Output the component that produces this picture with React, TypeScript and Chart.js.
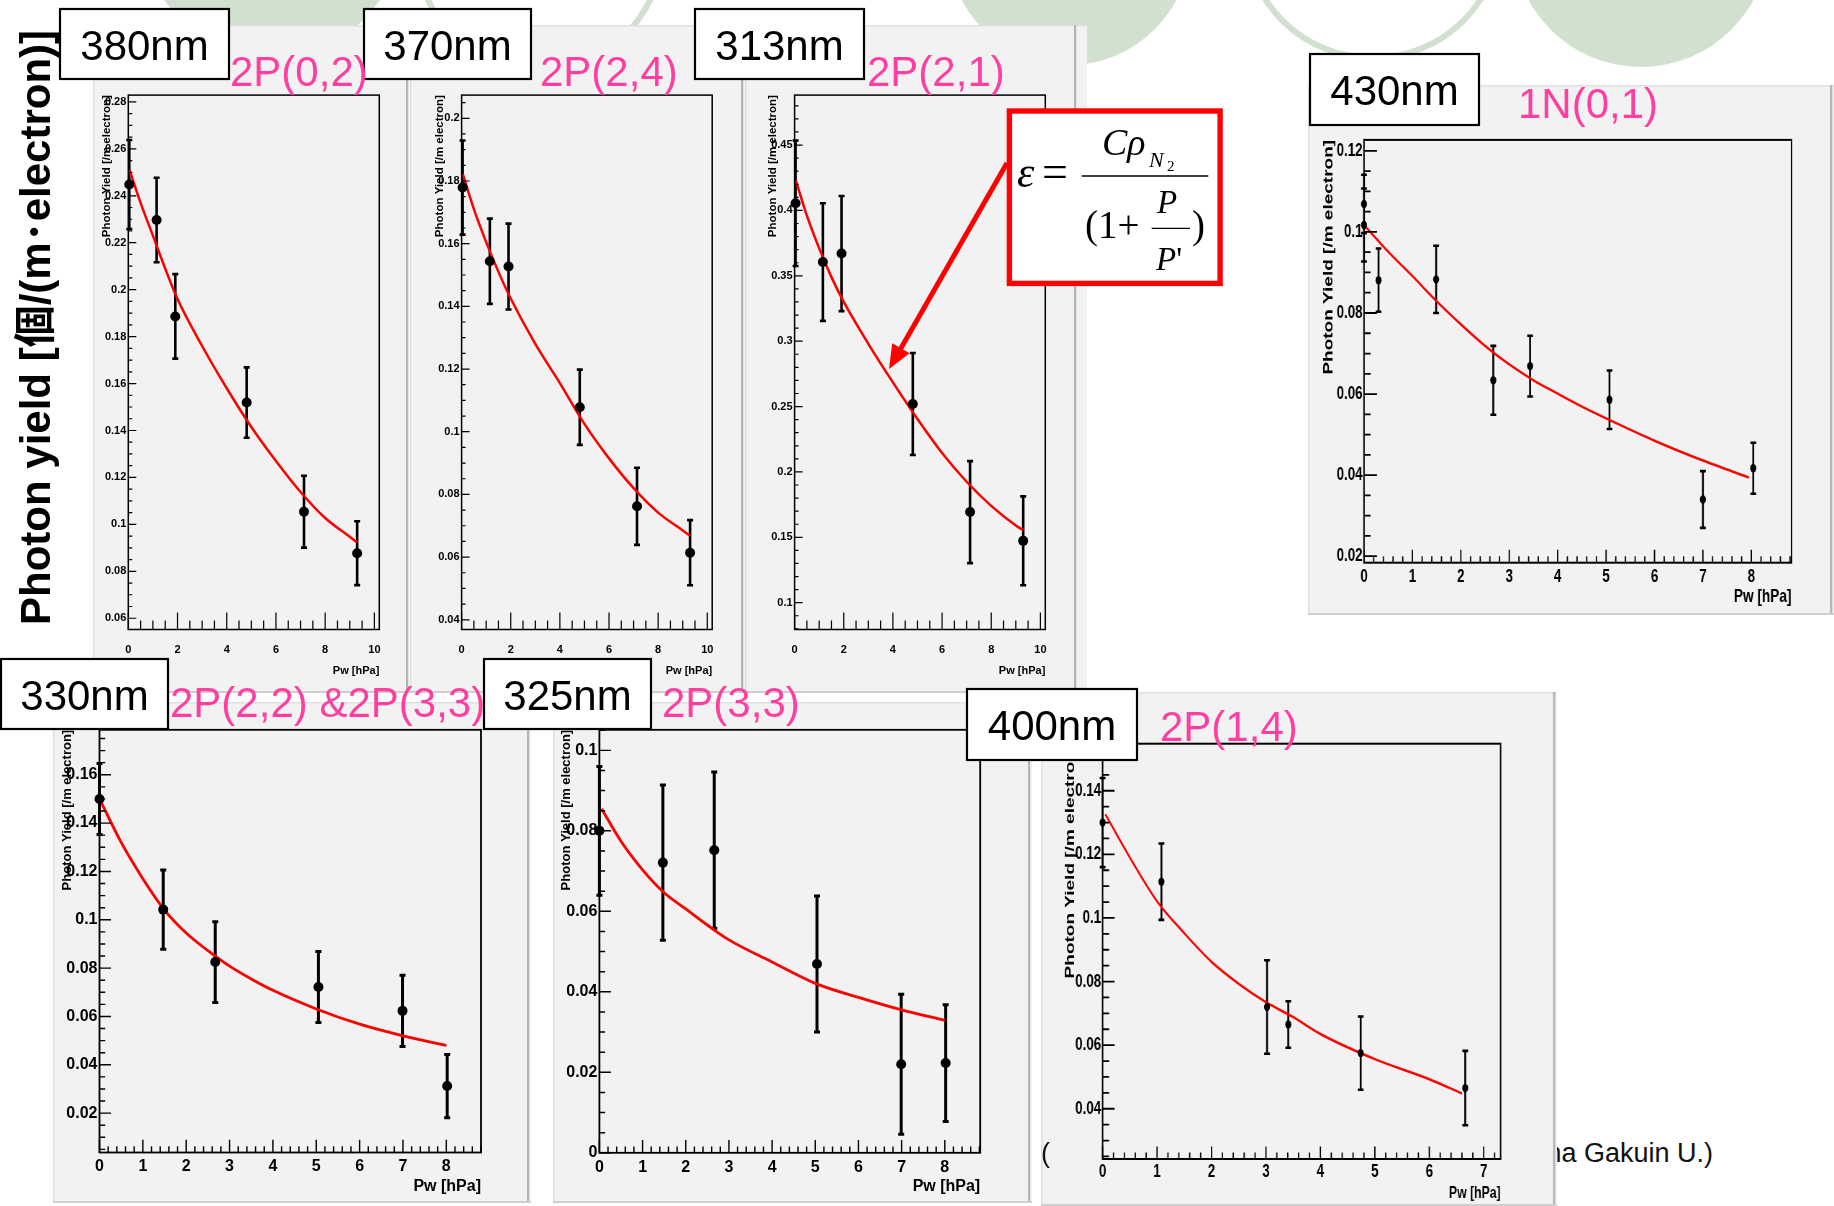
import React, { useEffect, useRef } from "react";
import { Chart, registerables } from "chart.js";
Chart.register(...registerables);

const SANS = '"Liberation Sans", Arial, Helvetica, "Noto Sans CJK JP", sans-serif';
const SERIF = '"Liberation Serif", "Times New Roman", serif';
const PINK = "#ff3fa0";
const GREEN = "#d2e0cf";

// ---------------- data ----------------
// top row (380 nm, 370 nm, 313 nm) share the same pressures
const pxTop = [0.04, 1.15, 1.91, 4.81, 7.14, 9.3];
const fxTop = [0.05, 0.5, 1, 1.5, 2, 3, 4, 5, 6, 7, 8, 9, 9.3];

const py380 = [0.2448, 0.2297, 0.1886, 0.1519, 0.1054, 0.0877];
const pe380 = [0.019, 0.018, 0.018, 0.015, 0.0153, 0.0136];
const fy380 = [0.251, 0.237, 0.223, 0.209, 0.196, 0.176, 0.158, 0.1415, 0.127, 0.1138, 0.1027, 0.0947, 0.0923];

const py370 = [0.1779, 0.1544, 0.1527, 0.1078, 0.0762, 0.0614];
const pe370 = [0.015, 0.0136, 0.0137, 0.012, 0.0123, 0.0104];
const fy370 = [0.1822, 0.171, 0.1605, 0.151, 0.1425, 0.128, 0.1155, 0.1025, 0.0915, 0.082, 0.0742, 0.0685, 0.0668];

const py313 = [0.4055, 0.3605, 0.367, 0.252, 0.1693, 0.1473];
const pe313 = [0.048, 0.045, 0.044, 0.039, 0.039, 0.034];
const fy313 = [0.423, 0.396, 0.371, 0.349, 0.33, 0.298, 0.2685, 0.2405, 0.2145, 0.1925, 0.174, 0.159, 0.1555];

const px430 = [0, 0, 0.3, 1.49, 2.67, 3.43, 5.07, 7.0, 8.04];
const py430 = [0.1069, 0.1017, 0.0881, 0.0883, 0.0634, 0.0669, 0.0586, 0.034, 0.0417];
const pe430 = [0.0072, 0.009, 0.0078, 0.0083, 0.0085, 0.0075, 0.0072, 0.007, 0.0063];
const fx430 = [0, 0.5, 1, 1.5, 2, 2.5, 3, 3.5, 4, 4.5, 5, 6, 7, 7.95];
const fy430 = [0.1017, 0.0951, 0.0891, 0.0829, 0.0772, 0.0719, 0.0673, 0.0634, 0.0601, 0.0569, 0.054, 0.0485, 0.0436, 0.0394];

const px330 = [0, 1.47, 2.67, 5.05, 6.99, 8.02];
const py330 = [0.15, 0.1042, 0.0825, 0.0722, 0.0623, 0.0312];
const pe330 = [0.0147, 0.0164, 0.0167, 0.0147, 0.0147, 0.0131];
const fx330 = [0, 0.5, 1, 1.5, 2, 2.5, 3, 3.5, 4, 5, 6, 7, 8];
const fy330 = [0.15, 0.132, 0.117, 0.104, 0.0945, 0.0872, 0.0808, 0.0755, 0.0708, 0.0631, 0.0568, 0.052, 0.048];

const px325 = [0, 1.47, 2.66, 5.04, 6.99, 8.02];
const py325 = [0.08, 0.0721, 0.0752, 0.0469, 0.022, 0.0223];
const pe325 = [0.016, 0.0193, 0.0194, 0.0169, 0.0174, 0.0145];
const fx325 = [0.05, 0.5, 1, 1.5, 2, 2.5, 3, 4, 5, 6, 7, 8];
const fy325 = [0.0855, 0.0774, 0.0703, 0.0646, 0.0606, 0.0566, 0.0529, 0.0474, 0.0421, 0.0386, 0.0355, 0.0329];

const px400 = [0, 1.08, 3.02, 3.41, 4.74, 6.66];
const py400 = [0.13, 0.1114, 0.072, 0.0665, 0.0575, 0.0465];
const pe400 = [0.014, 0.012, 0.0147, 0.0073, 0.0115, 0.0117];
const fx400 = [0.05, 0.5, 1, 1.5, 2, 2.5, 3, 3.5, 4, 5, 6, 6.6];
const fy400 = [0.1326, 0.119, 0.1052, 0.0952, 0.0862, 0.0793, 0.0735, 0.0688, 0.0635, 0.0556, 0.0493, 0.0448];

// tick values and labels
const xTicks10 = [0, 2, 4, 6, 8, 10];
const xLabels10 = ["0", "2", "4", "6", "8", "10"];
const xTicks8 = [0, 1, 2, 3, 4, 5, 6, 7, 8];
const xLabels8 = ["0", "1", "2", "3", "4", "5", "6", "7", "8"];
const xTicks7 = [0, 1, 2, 3, 4, 5, 6, 7];
const xLabels7 = ["0", "1", "2", "3", "4", "5", "6", "7"];
const yTicks380 = [0.06, 0.08, 0.1, 0.12, 0.14, 0.16, 0.18, 0.2, 0.22, 0.24, 0.26, 0.28];
const yLabels380 = ["0.06", "0.08", "0.1", "0.12", "0.14", "0.16", "0.18", "0.2", "0.22", "0.24", "0.26", "0.28"];
const yTicks370 = [0.04, 0.06, 0.08, 0.1, 0.12, 0.14, 0.16, 0.18, 0.2];
const yLabels370 = ["0.04", "0.06", "0.08", "0.1", "0.12", "0.14", "0.16", "0.18", "0.2"];
const yTicks313 = [0.1, 0.15, 0.2, 0.25, 0.3, 0.35, 0.4, 0.45];
const yLabels313 = ["0.1", "0.15", "0.2", "0.25", "0.3", "0.35", "0.4", "0.45"];
const yTicks430 = [0.02, 0.04, 0.06, 0.08, 0.1, 0.12];
const yLabels430 = ["0.02", "0.04", "0.06", "0.08", "0.1", "0.12"];
const yTicks330 = [0.02, 0.04, 0.06, 0.08, 0.1, 0.12, 0.14, 0.16];
const yLabels330 = ["0.02", "0.04", "0.06", "0.08", "0.1", "0.12", "0.14", "0.16"];
const yTicks325 = [0, 0.02, 0.04, 0.06, 0.08, 0.1];
const yLabels325 = ["0", "0.02", "0.04", "0.06", "0.08", "0.1"];
const yTicks400 = [0.04, 0.06, 0.08, 0.1, 0.12, 0.14];
const yLabels400 = ["0.04", "0.06", "0.08", "0.1", "0.12", "0.14"];

const Y_TITLE = "Photon Yield [/m electron]";
const X_TITLE = "Pw [hPa]";

// ---------------- panel layout / style ----------------
type Cfg = {
  key: string;
  box: number[];
  frame: number[];
  sx: number;
  dark: number;
  xMin: number; xMax: number; yMin: number; yMax: number;
  px: number[]; py: number[]; pe: number[]; fx: number[]; fy: number[];
  xTicks: number[]; xLabels: string[]; yTicks: number[]; yLabels: string[];
  xMinor: number; yMinor: number;
  tickFont: number; titleFont: number; xTitleFont: number;
  yLabGap: number; xLabOff: number; xTitleOff: number; yTitleOff: number;
  yMajLen: number; yMinLen: number; xMajLen: number; xMinLen: number;
  r: number; errW: number; cap: number; fitW: number; frameW: number; tickW: number;
};

const topStyle = {
  sx: 1, dark: 2, xMin: 0, xMax: 10.2, xTicks: xTicks10, xLabels: xLabels10, xMinor: 0.5,
  tickFont: 11, titleFont: 11.5, xTitleFont: 11,
  yLabGap: 2, xLabOff: 23, xTitleOff: 44.5, yTitleOff: 21.6,
  yMajLen: 8, yMinLen: 4, xMajLen: 17, xMinLen: 9,
  r: 5, errW: 2.6, cap: 3, fitW: 2.5, frameW: 1.5, tickW: 1.2,
};

const botStyle = {
  sx: 1, dark: 2, xMin: 0, xTicks: xTicks8, xLabels: xLabels8, xMinor: 0.2, yMinor: 0.005,
  tickFont: 16, titleFont: 13, xTitleFont: 16,
  yLabGap: 2, xLabOff: 18.8, xTitleOff: 38, yTitleOff: 32.5,
  yMajLen: 11.5, yMinLen: 5.7, xMajLen: 12.7, xMinLen: 6.3,
  r: 5, errW: 3, cap: 3, fitW: 2.8, frameW: 1.8, tickW: 1.4,
};

const narrowStyle = {
  sx: 0.72, dark: 2, xMin: 0, xMinor: 0.2, yMinor: 0.005,
  titleFont: 19, yLabGap: 1.5,
  yMajLen: 13, yMinLen: 6.5, xMajLen: 13, xMinLen: 6.5,
  r: 4.2, errW: 2.6, cap: 4, fitW: 2.5, frameW: 2, tickW: 1.8,
};

const panels: Cfg[] = [
  {
    ...topStyle, key: "380", box: [93, 25, 410, 693], frame: [128.3, 95.1, 379.3, 629.5],
    yMin: 0.0552, yMax: 0.2829, px: pxTop, py: py380, pe: pe380, fx: fxTop, fy: fy380,
    yTicks: yTicks380, yLabels: yLabels380, yMinor: 0.005,
  },
  {
    ...topStyle, key: "370", box: [410, 25, 745, 693], frame: [461.6, 95.1, 712.2, 629.5],
    yMin: 0.0369, yMax: 0.2074, px: pxTop, py: py370, pe: pe370, fx: fxTop, fy: fy370,
    yTicks: yTicks370, yLabels: yLabels370, yMinor: 0.005,
  },
  {
    ...topStyle, key: "313", box: [745, 25, 1087, 693], frame: [794.6, 95.1, 1045.3, 629.5], dark: 11,
    yMin: 0.0795, yMax: 0.4882, px: pxTop, py: py313, pe: pe313, fx: fxTop, fy: fy313,
    yTicks: yTicks313, yLabels: yLabels313, yMinor: 0.01,
  },
  {
    ...narrowStyle, key: "430", box: [1308, 85, 1834, 615], frame: [1364, 139.9, 1791.5, 562.7],
    xMax: 8.83, yMin: 0.0184, yMax: 0.1227, px: px430, py: py430, pe: pe430, fx: fx430, fy: fy430,
    xTicks: xTicks8, xLabels: xLabels8, yTicks: yTicks430, yLabels: yLabels430,
    tickFont: 18.5, xTitleFont: 19, xLabOff: 19.3, xTitleOff: 39.5, yTitleOff: 35,
  },
  {
    ...botStyle, key: "330", box: [53, 702, 531, 1203], frame: [99.5, 729.8, 481, 1152.5],
    xMax: 8.8, yMin: 0.0037, yMax: 0.1786, px: px330, py: py330, pe: pe330, fx: fx330, fy: fy330,
    yTicks: yTicks330, yLabels: yLabels330,
  },
  {
    ...botStyle, key: "325", box: [553, 702, 1032, 1203], frame: [599.4, 729.8, 980.2, 1152.8],
    xMax: 8.82, yMin: 0, yMax: 0.1051, px: px325, py: py325, pe: pe325, fx: fx325, fy: fy325,
    yTicks: yTicks325, yLabels: yLabels325,
  },
  {
    ...narrowStyle, key: "400", box: [1041, 692, 1557, 1206], frame: [1102.6, 743.7, 1500.6, 1159],
    xMax: 7.31, yMin: 0.0242, yMax: 0.1548, px: px400, py: py400, pe: pe400, fx: fx400, fy: fy400,
    xTicks: xTicks7, xLabels: xLabels7, yTicks: yTicks400, yLabels: yLabels400,
    tickFont: 18.5, xTitleFont: 17, xLabOff: 17.5, xTitleOff: 39, yTitleOff: 32.6, yMajLen: 12, xMajLen: 12.5,
  },
];

function makePlugin(c: Cfg, sxe: number) {
  return {
    id: "rootStyle" + c.key,
    beforeDraw(chart: any) {
      const { ctx, width, height } = chart;
      ctx.save();
      ctx.fillStyle = "#f2f2f2";
      ctx.fillRect(0, 0, width, height);
      ctx.fillStyle = "#e0e0e0";
      ctx.fillRect(0, 0, width, 1.5);
      ctx.fillRect(0, 0, 1.5 / sxe, height);
      ctx.fillStyle = "#b4b4b4";
      ctx.fillRect(width - (c.dark + 2) / sxe, 0, 2.2 / sxe, height);
      ctx.fillStyle = "#cfcfcf";
      ctx.fillRect(0, height - 2, width, 2);
      ctx.restore();
    },
    beforeDatasetsDraw(chart: any) {
      const { ctx } = chart;
      const xs = chart.scales.x;
      const ys = chart.scales.y;
      ctx.save();
      ctx.strokeStyle = "#000";
      ctx.lineWidth = c.errW;
      ctx.beginPath();
      c.px.forEach((xv, i) => {
        const X = xs.getPixelForValue(xv);
        const T = ys.getPixelForValue(c.py[i] + c.pe[i]);
        const B = ys.getPixelForValue(c.py[i] - c.pe[i]);
        ctx.moveTo(X, T);
        ctx.lineTo(X, B);
        ctx.moveTo(X - c.cap, T);
        ctx.lineTo(X + c.cap, T);
        ctx.moveTo(X - c.cap, B);
        ctx.lineTo(X + c.cap, B);
      });
      ctx.stroke();
      ctx.restore();
    },
    afterDraw(chart: any) {
      const { ctx } = chart;
      const a = chart.chartArea;
      const xs = chart.scales.x;
      const ys = chart.scales.y;
      ctx.save();
      ctx.strokeStyle = "#000";
      ctx.lineWidth = c.frameW;
      ctx.strokeRect(a.left, a.top, a.right - a.left, a.bottom - a.top);
      ctx.lineWidth = c.tickW;
      ctx.beginPath();
      const ky0 = Math.ceil(c.yMin / c.yMinor - 1e-6);
      for (let k = ky0; k * c.yMinor <= c.yMax + 1e-9; k++) {
        const Y = ys.getPixelForValue(k * c.yMinor);
        ctx.moveTo(a.left, Y);
        ctx.lineTo(a.left + c.yMinLen / sxe, Y);
      }
      c.yTicks.forEach((v) => {
        const Y = ys.getPixelForValue(v);
        ctx.moveTo(a.left, Y);
        ctx.lineTo(a.left + c.yMajLen / sxe, Y);
      });
      const kx0 = Math.ceil(c.xMin / c.xMinor - 1e-6);
      for (let k = kx0; k * c.xMinor <= c.xMax + 1e-9; k++) {
        const X = xs.getPixelForValue(k * c.xMinor);
        ctx.moveTo(X, a.bottom);
        ctx.lineTo(X, a.bottom - c.xMinLen);
      }
      c.xTicks.forEach((v) => {
        const X = xs.getPixelForValue(v);
        ctx.moveTo(X, a.bottom);
        ctx.lineTo(X, a.bottom - c.xMajLen);
      });
      ctx.stroke();

      ctx.fillStyle = "#000";
      ctx.font = `bold ${c.tickFont}px ${SANS}`;
      ctx.textAlign = "right";
      ctx.textBaseline = "middle";
      c.yTicks.forEach((v, i) => {
        ctx.fillText(c.yLabels[i], a.left - c.yLabGap / sxe, ys.getPixelForValue(v));
      });
      ctx.textAlign = "center";
      ctx.textBaseline = "alphabetic";
      c.xTicks.forEach((v, i) => {
        ctx.fillText(c.xLabels[i], xs.getPixelForValue(v), a.bottom + c.xLabOff);
      });
      ctx.font = `bold ${c.xTitleFont}px ${SANS}`;
      ctx.textAlign = "right";
      ctx.fillText(X_TITLE, a.right, a.bottom + c.xTitleOff);

      ctx.save();
      ctx.translate(a.left - c.yTitleOff / sxe, a.top);
      ctx.rotate(-Math.PI / 2);
      ctx.font = `bold ${c.titleFont}px ${SANS}`;
      ctx.textAlign = "right";
      ctx.textBaseline = "middle";
      ctx.fillText(Y_TITLE, 0, 0);
      ctx.restore();
      ctx.restore();
    },
  };
}

function Panel({ c }: { c: Cfg }) {
  const ref = useRef<HTMLCanvasElement | null>(null);
  const boxW = c.box[2] - c.box[0];
  const W = Math.round(boxW / c.sx);
  const H = Math.round(c.box[3] - c.box[1]);
  const sxe = boxW / W;
  useEffect(() => {
    if (!ref.current) return;
    const pad = {
      left: (c.frame[0] - c.box[0]) / sxe,
      right: W - (c.frame[2] - c.box[0]) / sxe,
      top: c.frame[1] - c.box[1],
      bottom: H - (c.frame[3] - c.box[1]),
    };
    const chart = new Chart(ref.current, {
      type: "scatter",
      data: {
        datasets: [
          {
            type: "scatter",
            data: c.px.map((x, i) => ({ x, y: c.py[i] })),
            pointRadius: c.r,
            pointBackgroundColor: "#000",
            pointBorderWidth: 0,
            clip: false as any,
            order: 0,
          } as any,
          {
            type: "line",
            data: c.fx.map((x, i) => ({ x, y: c.fy[i] })),
            borderColor: "#ff0000",
            borderWidth: c.fitW,
            pointRadius: 0,
            cubicInterpolationMode: "monotone",
            fill: false,
            clip: false as any,
            order: 1,
          } as any,
        ],
      },
      options: {
        responsive: false,
        animation: false,
        devicePixelRatio: 1,
        events: [],
        layout: { autoPadding: false, padding: pad } as any,
        scales: {
          x: { type: "linear", min: c.xMin, max: c.xMax, display: false },
          y: { type: "linear", min: c.yMin, max: c.yMax, display: false },
        },
        plugins: { legend: { display: false }, tooltip: { enabled: false } },
      },
      plugins: [makePlugin(c, sxe) as any],
    });
    return () => chart.destroy();
  }, []);
  return (
    <div
      style={{
        position: "absolute",
        left: c.box[0],
        top: c.box[1],
        width: W,
        height: H,
        transform: `scaleX(${sxe})`,
        transformOrigin: "0 0",
      }}
    >
      <canvas ref={ref} width={W} height={H} style={{ display: "block", width: W, height: H }} />
    </div>
  );
}

// ---------------- overlay decorations ----------------
type Item =
  | { kind: "box"; t: string; x0: number; y0: number; x1: number; y1: number }
  | { kind: "pink"; t: string; x: number; y: number };

const overlayItems: Item[] = [
  { kind: "box", t: "370nm", x0: 363, y0: 8, x1: 532, y1: 80 },
  { kind: "box", t: "380nm", x0: 59, y0: 8, x1: 230, y1: 80 },
  { kind: "pink", t: "2P(0,2)", x: 230, y: 86 },
  { kind: "pink", t: "2P(2,4)", x: 540, y: 86 },
  { kind: "box", t: "313nm", x0: 694, y0: 8, x1: 865, y1: 80 },
  { kind: "pink", t: "2P(2,1)", x: 867, y: 86 },
  { kind: "box", t: "430nm", x0: 1309, y0: 53, x1: 1480, y1: 126 },
  { kind: "pink", t: "1N(0,1)", x: 1518, y: 118 },
  { kind: "box", t: "330nm", x0: 0, y0: 658, x1: 169, y1: 730 },
  { kind: "pink", t: "2P(2,2) &2P(3,3)", x: 170, y: 717 },
  { kind: "box", t: "325nm", x0: 483, y0: 658, x1: 652, y1: 730 },
  { kind: "pink", t: "2P(3,3)", x: 662, y: 717 },
  { kind: "box", t: "400nm", x0: 966, y0: 688, x1: 1138, y1: 761 },
  { kind: "pink", t: "2P(1,4)", x: 1160, y: 741 },
];

function arrowHead(tail: number[], tip: number[], len: number, half: number) {
  const dx = tip[0] - tail[0];
  const dy = tip[1] - tail[1];
  const L = Math.hypot(dx, dy);
  const ux = dx / L, uy = dy / L;
  const bx = tip[0] - ux * len, by = tip[1] - uy * len;
  const p1 = [bx - uy * half, by + ux * half];
  const p2 = [bx + uy * half, by - ux * half];
  return { pts: `${tip[0]},${tip[1]} ${p1[0]},${p1[1]} ${p2[0]},${p2[1]}`, base: [bx + ux * 2, by + uy * 2] };
}

export default function App() {
  const tail = [1007, 163];
  const tip = [889, 369];
  const ah = arrowHead(tail, tip, 24, 10);
  return (
    <div
      style={{
        position: "absolute",
        left: 0,
        top: 0,
        width: 1834,
        height: 1206,
        background: "#ffffff",
        overflow: "hidden",
        fontFamily: SANS,
      }}
    >
      <svg width={1834} height={1206} style={{ position: "absolute", left: 0, top: 0 }}>
        <circle cx={272} cy={-71} r={129} fill={GREEN} />
        <circle cx={539} cy={-53} r={123} fill="none" stroke={GREEN} strokeWidth={6} />
        <circle cx={1069} cy={-56} r={121} fill={GREEN} />
        <circle cx={1373} cy={-70} r={128} fill="none" stroke={GREEN} strokeWidth={6} />
        <circle cx={1641} cy={-61} r={128} fill={GREEN} />
        <text x={1713} y={1162} textAnchor="end" fontSize={27} fontFamily={SANS} fill="#111">
          Aoyama Gakuin U.)
        </text>
      </svg>

      {panels.map((c) => (
        <Panel key={c.key} c={c} />
      ))}

      <svg
        width={1834}
        height={1206}
        style={{ position: "absolute", left: 0, top: 0, pointerEvents: "none" }}
      >
        <text
          transform="translate(50,625) rotate(-90)"
          fontSize={42}
          fontWeight="bold"
          fontFamily={SANS}
          fill="#000"
        >
          Photon yield [個/(m･electron)]
        </text>

        {overlayItems.map((it, i) =>
          it.kind === "box" ? (
            <g key={i}>
              <rect
                x={it.x0 + 1}
                y={it.y0 + 1}
                width={it.x1 - it.x0 - 2}
                height={it.y1 - it.y0 - 2}
                fill="#ffffff"
                stroke="#000"
                strokeWidth={2.2}
              />
              <text
                x={(it.x0 + it.x1) / 2}
                y={(it.y0 + it.y1) / 2 + 15.5}
                textAnchor="middle"
                fontSize={42}
                fontFamily={SANS}
                fill="#000"
              >
                {it.t}
              </text>
            </g>
          ) : (
            <text key={i} x={it.x} y={it.y} fontSize={42} fontFamily={SANS} fill={PINK}>
              {it.t}
            </text>
          )
        )}

        {/* formula box */}
        <rect x={1009.4} y={111} width={210.7} height={172.4} fill="#ffffff" stroke="#ff0000" strokeWidth={5.4} />
        <g fontFamily={SERIF} fill="#000">
          <text x={1017} y={187} fontSize={44} fontStyle="italic">ε</text>
          <text x={1042} y={187} fontSize={46}>=</text>
          <text x={1102} y={155} fontSize={38} fontStyle="italic">Cρ</text>
          <text x={1149} y={167} fontSize={22} fontStyle="italic">N</text>
          <text x={1167} y={171} fontSize={15}>2</text>
          <text x={1085} y={238} fontSize={39}>(1+</text>
          <text x={1157} y={213} fontSize={33} fontStyle="italic">P</text>
          <text x={1156} y={270} fontSize={33}>
            <tspan fontStyle="italic">P</tspan>
            <tspan>'</tspan>
          </text>
          <text x={1192} y={238} fontSize={39}>)</text>
        </g>
        <line x1={1081.7} y1={176} x2={1208.3} y2={176} stroke="#000" strokeWidth={1.6} />
        <line x1={1151.7} y1={228.3} x2={1190} y2={228.3} stroke="#000" strokeWidth={1.2} />

        {/* arrow */}
        <line x1={tail[0]} y1={tail[1]} x2={ah.base[0]} y2={ah.base[1]} stroke="#ff0000" strokeWidth={5} />
        <polygon points={ah.pts} fill="#ff0000" />

        <text x={1041} y={1162} fontSize={27} fontFamily={SANS} fill="#111">
          (
        </text>
      </svg>
    </div>
  );
}
